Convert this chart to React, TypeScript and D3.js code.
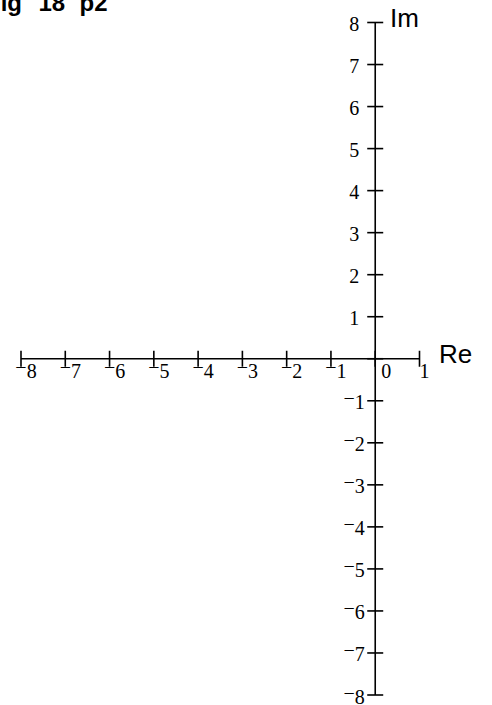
import * as d3 from "d3";

const W = 492;
const H = 705;

// axis extents and tick values
const reDomain = [-8, 1];
const imDomain = [-8, 8];
const reTicks = [-8, -7, -6, -5, -4, -3, -2, -1, 0, 1];
const imTicks = [-8, -7, -6, -5, -4, -3, -2, -1, 0, 1, 2, 3, 4, 5, 6, 7, 8];
const imLabels = [-8, -7, -6, -5, -4, -3, -2, -1, 1, 2, 3, 4, 5, 6, 7, 8];
const titleParts = ["Fig", "18", "p2"];
const axisNames = ["Re", "Im"];

const x = d3.scaleLinear().domain(reDomain).range([21, 419.5]);
const y = d3.scaleLinear().domain(imDomain).range([695, 22.5]);

const TICK = 8;
const serif = "'Liberation Serif', 'Times New Roman', serif";
const sans = "'Liberation Sans', Arial, sans-serif";

// negative numbers get a raised minus like the reference
const Num = ({ v }: { v: number }) =>
  v < 0 ? (
    <>
      <tspan dy={-4}>{"\u2212"}</tspan>
      <tspan dy={4}>{Math.abs(v)}</tspan>
    </>
  ) : (
    <>{v}</>
  );

export default function App() {
  const x0 = x(0);
  const y0 = y(0);
  const [lo, hi] = x.range();

  return (
    <svg
      width={W}
      height={H}
      style={{ position: "absolute", left: 0, top: 0, background: "#fff" }}
    >
      <g fontFamily={sans} fontWeight="bold" fontSize={24} fill="#000">
        <text x={22} y={10.5} textAnchor="end">{titleParts[0]}</text>
        <text x={38.5} y={10.5}>{titleParts[1]}</text>
        <text x={79.5} y={10.5}>{titleParts[2]}</text>
      </g>

      <g stroke="#000" strokeWidth={1.6} fill="none">
        <line x1={lo} x2={hi} y1={y0} y2={y0} />
        <line x1={x0} x2={x0} y1={y(8)} y2={y(-8)} />
        {reTicks.map((t) => (
          <line key={"rt" + t} x1={x(t)} x2={x(t)} y1={y0 - TICK} y2={y0 + TICK} />
        ))}
        {imTicks.map((t) => (
          <line key={"it" + t} x1={x0 - TICK} x2={x0 + TICK} y1={y(t)} y2={y(t)} />
        ))}
      </g>

      <g fontFamily={serif} fontSize={20} fill="#000" textAnchor="middle">
        {reTicks.map((t) => (
          <text key={"rl" + t} x={x(t) + (t === 0 ? 11 : 5)} y={y0 + 19}>
            <Num v={t} />
          </text>
        ))}
        {imLabels.map((t) => (
          <text key={"il" + t} x={x0 - 21} y={y(t) + 8.5}>
            <Num v={t} />
          </text>
        ))}
      </g>

      <g fontFamily={sans} fontSize={26} fill="#000">
        <text x={439} y={363}>{axisNames[0]}</text>
        <text x={390} y={27}>{axisNames[1]}</text>
      </g>
    </svg>
  );
}
